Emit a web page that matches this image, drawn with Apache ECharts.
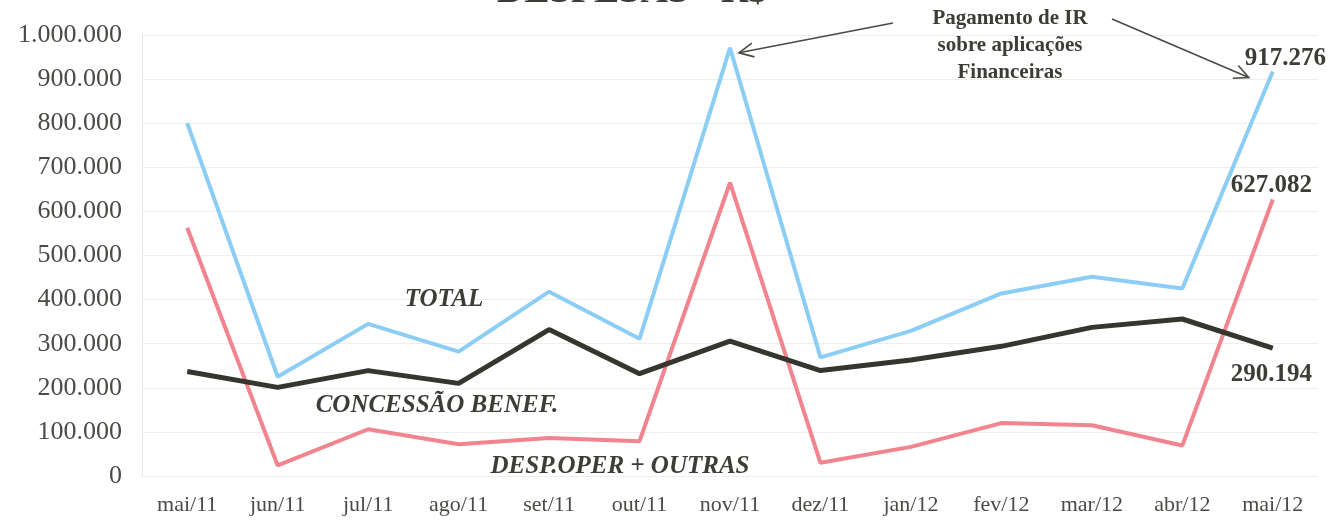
<!DOCTYPE html>
<html>
<head>
<meta charset="utf-8">
<script src="https://cdn.jsdelivr.net/npm/echarts@6/dist/echarts.min.js"></script>
<style>
html,body{margin:0;padding:0;background:#fff;}
#c{width:1330px;height:529px;}
</style>
</head>
<body>
<div id="c"></div>
<script>
const categories = ['mai/11','jun/11','jul/11','ago/11','set/11','out/11','nov/11','dez/11','jan/12','fev/12','mar/12','abr/12','mai/12'];
const total = [800000, 225000, 345000, 282000, 418000, 311000, 971000, 269000, 329000, 414000, 452000, 425000, 917276];
const concessao = [237000, 201000, 239000, 210000, 332000, 232000, 306000, 239000, 263000, 294000, 337000, 356000, 290194];
const despOper = [563000, 24000, 106000, 72000, 86000, 79000, 665000, 30000, 66000, 120000, 115000, 69000, 627082];
const yMin = 0, yMax = 1000000, yStep = 100000;

const serif = '"Liberation Serif", "DejaVu Serif", serif';
const textColor = '#3d3d38';

function fmt(v){ return String(Math.round(v)).replace(/\B(?=(\d{3})+(?!\d))/g, '.'); }

const chart = echarts.init(document.getElementById('c'), null, {renderer:'canvas'});

function endLbl(offset){
  return {
    show: true,
    formatter: function(p){ return fmt(p.value); },
    offset: offset,
    fontFamily: serif, fontWeight: 'bold', fontSize: 25, color: textColor
  };
}

chart.setOption({
  animation: false,
  backgroundColor: '#fff',
  grid: {left: 142, right: 12, top: 35, bottom: 53, containLabel: false},
  xAxis: {
    type: 'category', data: categories, boundaryGap: true,
    axisLine: {show: false}, axisTick: {show: false},
    axisLabel: {fontFamily: serif, fontSize: 22, color: '#4a4a46', margin: 18, interval: 0}
  },
  yAxis: {
    type: 'value', min: yMin, max: yMax, interval: yStep,
    axisLine: {show: true, lineStyle: {color: '#e6e6e6'}}, axisTick: {show: false},
    splitLine: {lineStyle: {color: '#eeeeee', width: 1}},
    axisLabel: {fontFamily: serif, fontSize: 26, color: '#4a4a46', margin: 20, formatter: fmt}
  },
  series: [
    {name: 'TOTAL', type: 'line', data: total, symbol: 'none',
     lineStyle: {color: '#8ccdf6', width: 4}, itemStyle: {color: '#8ccdf6'},
     endLabel: endLbl([-36, -13]), z: 3},
    {name: 'DESP.OPER + OUTRAS', type: 'line', data: despOper, symbol: 'none',
     lineStyle: {color: '#f2848f', width: 4}, itemStyle: {color: '#f2848f'},
     endLabel: endLbl([-50, -14]), z: 2},
    {name: 'CONCESSÃO BENEF.', type: 'line', data: concessao, symbol: 'none',
     lineStyle: {color: '#36362f', width: 5}, itemStyle: {color: '#36362f'},
     endLabel: endLbl([-50, 27]), z: 4}
  ]
});

// annotations anchored to data points
const pNov = chart.convertToPixel({gridIndex: 0}, [6, total[6]]);
const pEnd = chart.convertToPixel({gridIndex: 0}, [12, total[12]]);

function arrow(x1, y1, x2, y2){
  const ang = Math.atan2(y2 - y1, x2 - x1);
  const L = 16, a = 0.45;
  const h1 = [x2 - L*Math.cos(ang - a), y2 - L*Math.sin(ang - a)];
  const h2 = [x2 - L*Math.cos(ang + a), y2 - L*Math.sin(ang + a)];
  return [
    {type:'line', shape:{x1:x1, y1:y1, x2:x2, y2:y2}, style:{stroke:'#4a4a46', lineWidth:1.6}},
    {type:'polyline', shape:{points:[h1, [x2, y2], h2]}, style:{stroke:'#4a4a46', lineWidth:1.6, fill:null}}
  ];
}

const a1 = arrow(893, 23, pNov[0] + 9, pNov[1] + 5);
const a2 = arrow(1112, 19, pEnd[0] - 24, pEnd[1] + 6);

function seriesText(txt, x, y){
  return {type:'text', x:x, y:y, style:{text:txt, font:'italic bold 25px ' + serif, fill:textColor, align:'center', verticalAlign:'middle'}};
}

chart.setOption({
  graphic: [
    {type:'text', x:632, y:11, style:{text:'DESPESAS - R$', font:'bold 38px ' + serif, fill:textColor, align:'center', verticalAlign:'bottom'}},
    {type:'text', x:1010, y:5, style:{text:'Pagamento de IR\nsobre aplicações\nFinanceiras', font:'bold 21px ' + serif, fill:textColor, align:'center', verticalAlign:'top', lineHeight:27}},
    seriesText('TOTAL', 444, 300),
    seriesText('CONCESSÃO BENEF.', 437, 406),
    seriesText('DESP.OPER + OUTRAS', 620, 467)
  ].concat(a1, a2)
});
</script>
</body>
</html>
